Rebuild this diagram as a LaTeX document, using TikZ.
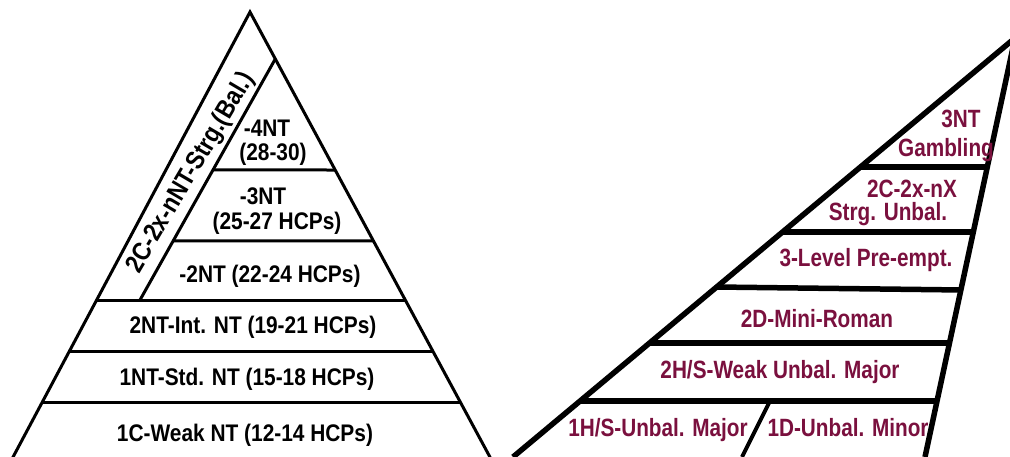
\documentclass[tikz,border=0pt]{standalone}
\usepackage{fontspec}
\setmainfont{Liberation Sans}
\newfontfamily\lfont{Liberation Sans Bold}[FakeStretch=0.87]
\newfontfamily\rfont{Liberation Sans Bold}[FakeStretch=0.83]
\usetikzlibrary{calc}
\definecolor{maroon}{RGB}{122,16,62}
\begin{document}
\begin{tikzpicture}[x=1pt,y=-1pt,
  lft/.style={line width=3pt},
  rgt/.style={line width=5.5pt},
  blab/.style={font=\lfont\fontsize{24}{26}\selectfont, anchor=base, inner sep=0pt, text=black},
  mlab/.style={font=\rfont\fontsize{25}{27}\selectfont, anchor=base, inner sep=0pt, text=maroon}]
\useasboundingbox (0,0) rectangle (1010,457);
\clip (0,0) rectangle (1010,457);
% ---------- left pyramid ----------
\coordinate (LA) at (250,12);
\coordinate (LL) at (12,459);
\coordinate (LR) at (491,459);
\draw[lft] (LL) -- (LA) -- (LR);
\coordinate (I1) at ($(LA)!0.105!(LR)$);
\coordinate (I2) at (140,300);
\draw[lft] (I1) -- (I2);
\draw[lft] ($(I1)!0.46!(I2)$) -- ($(LA)!0.3535!(LR)$);
\draw[lft] ($(I1)!0.755!(I2)$) -- ($(LA)!0.5123!(LR)$);
\draw[lft] ($(LA)!0.6443!(LL)$) -- ($(LA)!0.6443!(LR)$);
\draw[lft] ($(LA)!0.7584!(LL)$) -- ($(LA)!0.7584!(LR)$);
\draw[lft] ($(LA)!0.8725!(LL)$) -- ($(LA)!0.8725!(LR)$);
\node[blab] (l4a) at (267,137) {-4NT};
\node[blab] (l4b) at (273,161) {(28-30)};
\node[blab] (l3a) at (263,205) {-3NT};
\node[blab] (l3b) at (277,230) {(25-27 HCPs)};
\node[blab] (l2) at (270,283) {-2NT (22-24 HCPs)};
\node[blab] (l2nt) at (253,334) {2NT-Int. NT (19-21 HCPs)};
\node[blab] (l1nt) at (247,385) {1NT-Std. NT (15-18 HCPs)};
\node[blab] (l1c) at (245,441) {1C-Weak NT (12-14 HCPs)};
\node[blab, font=\lfont\fontsize{26}{28}\selectfont, anchor=center, rotate=59.5] (lstr) at (191,173) {2C-2x-nNT-Strg.(Bal.)};
% ---------- right triangle ----------
\coordinate (RA) at (1015,38);
\coordinate (RL) at (513,457);
\coordinate (RR) at (925,457);
\draw[rgt] (RL) -- (RA) -- (RR);
\draw[rgt] ($(RA)!0.3079!(RL)$) -- ($(RA)!0.3079!(RR)$);
\draw[rgt] ($(RA)!0.4630!(RL)$) -- ($(RA)!0.4630!(RR)$);
\draw[rgt] ($(RA)!0.5943!(RL)$) -- ($(RA)!0.6014!(RR)$);
\draw[rgt] ($(RA)!0.7279!(RL)$) -- ($(RA)!0.7279!(RR)$);
\draw[rgt] ($(RA)!0.8663!(RL)$) -- ($(RA)!0.8663!(RR)$);
\coordinate (D1) at (770,401);
\coordinate (D2) at (742,457);
\draw[line width=4pt] (D1) -- (D2);
\node[mlab] (r3nt) at (961,128) {3NT};
\node[mlab] (rgam) at (946,157) {Gambling};
\node[mlab] (r2c) at (912,198) {2C-2x-nX};
\node[mlab] (rstr) at (888,221) {Strg. Unbal.};
\node[mlab] (r3l) at (866,267) {3-Level Pre-empt.};
\node[mlab] (r2d) at (817,327) {2D-Mini-Roman};
\node[mlab] (r2h) at (780,378) {2H/S-Weak Unbal. Major};
\node[mlab] (r1h) at (658,436) {1H/S-Unbal. Major};
\node[mlab] (r1d) at (848,436) {1D-Unbal. Minor};
\end{tikzpicture}
\end{document}
